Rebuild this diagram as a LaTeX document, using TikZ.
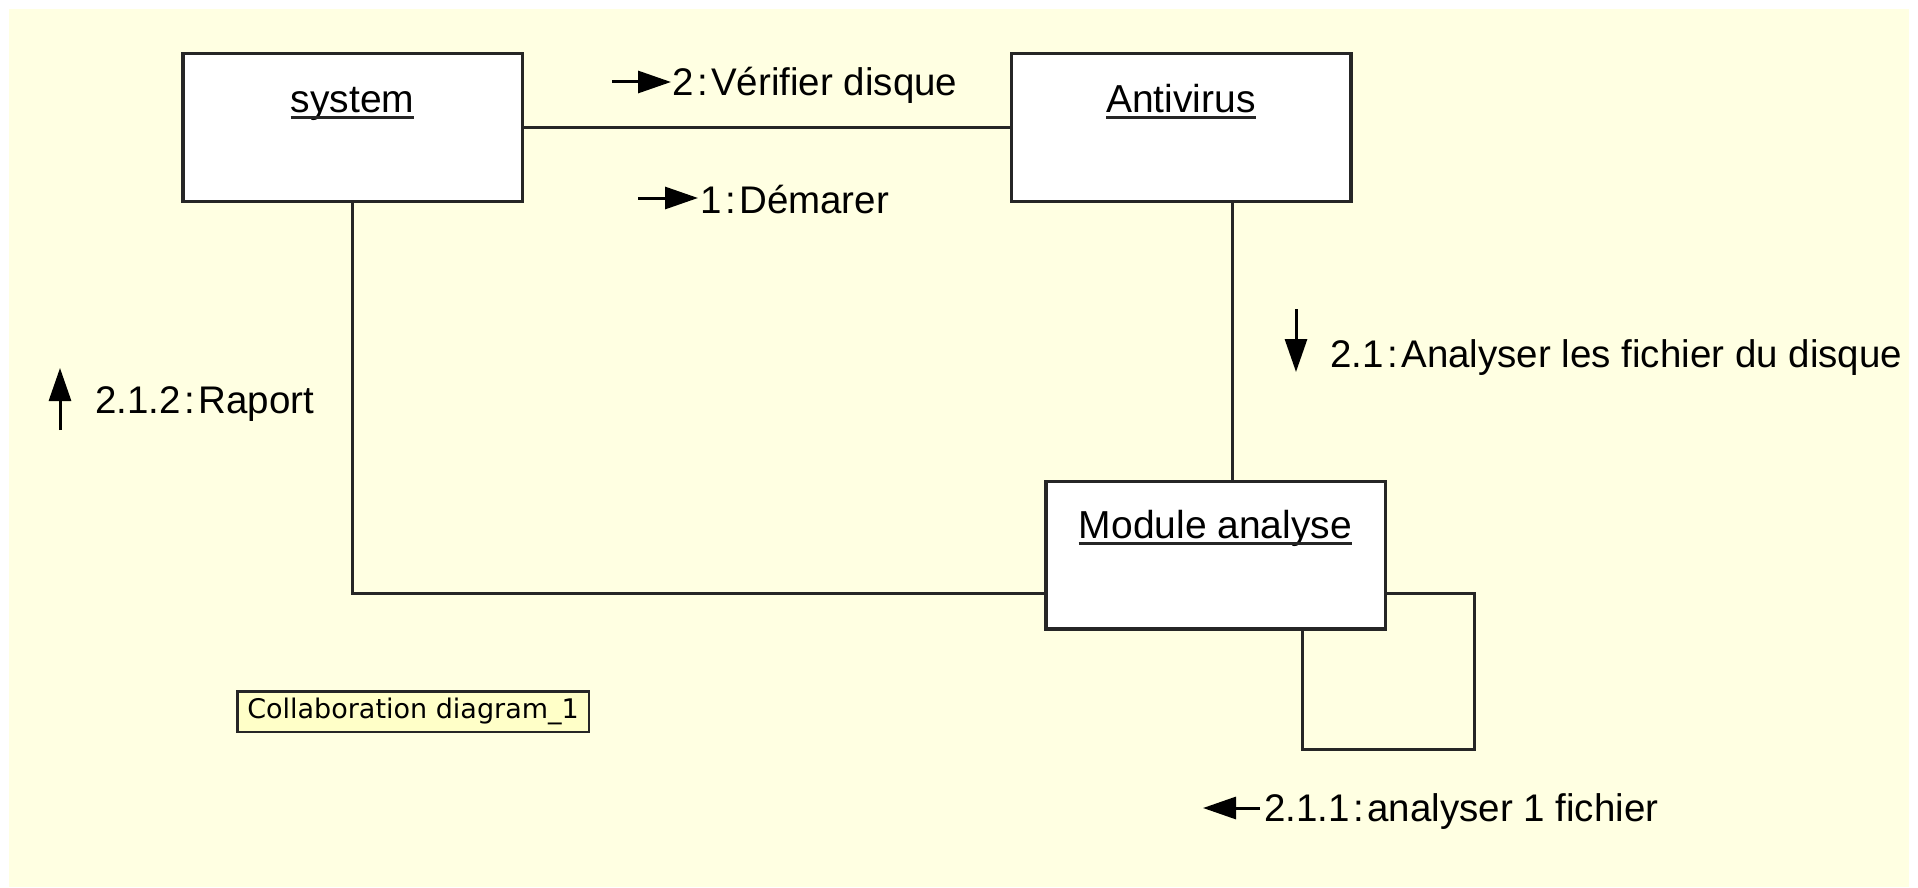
\documentclass[tikz,border=0pt]{standalone}
\usepackage{fontspec}
\setmainfont{Liberation Sans}
\newfontfamily\notefont{DejaVu Sans}
\usetikzlibrary{arrows.meta}

\definecolor{paper}{HTML}{FFFFE2}
\definecolor{notefill}{HTML}{FFFFC8}
\newcommand{\msg}[2]{#1\kern.09em:\kern.09em#2}

\tikzset{
  objbox/.style={draw=black!85, line width=3.5pt, fill=white, minimum width=339.5pt, minimum height=147.5pt},
  objname/.style={anchor=base, inner sep=0pt, font=\fontsize{39}{47}\selectfont},
  nameline/.style={line width=3pt, black!85},
  msgtext/.style={anchor=base west, inner sep=0pt, font=\fontsize{38.5}{46}\selectfont},
  msgarrow/.style={line width=3pt, -{Triangle[length=33pt,width=22pt]}},
  link/.style={draw=black!85, line width=3pt},
  notebox/.style={draw=black!85, line width=2.5pt, fill=notefill, minimum width=351.5pt, minimum height=40.5pt, inner sep=0pt, font=\notefont\fontsize{27}{32}\selectfont}
}

\begin{document}
\begin{tikzpicture}[x=1pt,y=-1pt]
    \useasboundingbox (0,0) rectangle (1918,888);
    \fill[paper] (9,9) rectangle (1909,887);

    % objects
    \node[objbox] (sys) at (352.5,127.5) {};
    \node[objbox] (anti) at (1181,127.5) {};
    \node[objbox] (mod) at (1215.5,555) {};
    \node[objname] (sysname) at (352.5,113) {system};
    \node[objname] (antiname) at (1181,113) {Antivirus};
    \node[objname] (modname) at (1215.5,538) {Module analyse};
    \foreach \n in {sysname,antiname,modname}
        \draw[nameline] ([yshift=-5pt]\n.base west) -- ([yshift=-5pt]\n.base east);

    % links
    \draw[link] (sys) -- (anti);
    \draw[link] ([xshift=51pt]anti.south) -- ([xshift=51pt]anti.south |- mod.north);
    \draw[link] (sys.south) |- ([yshift=-38pt]mod.west);
    \coordinate (loop) at (1474,749);
    \draw[link] ([yshift=-38pt]mod.east) -| (loop) -| ([xshift=86.5pt]mod.south);

    % messages
    \node[msgtext] (m1) at (700,213) {\msg{1}{Démarer}};
    \draw[msgarrow] ([shift={(-62pt,15pt)}]m1.base west) -- ([shift={(-2pt,15pt)}]m1.base west);
    \node[msgtext] (m2) at (672,96) {\msg{2}{Vérifier disque}};
    \draw[msgarrow] ([shift={(-60pt,14pt)}]m2.base west) -- ([shift={(-1pt,14pt)}]m2.base west);
    \node[msgtext] (m21) at (1330,367) {\msg{2.1}{Analyser les fichier du disque}};
    \draw[msgarrow] ([shift={(-34pt,58pt)}]m21.base west) -- ([shift={(-34pt,-5pt)}]m21.base west);
    \node[msgtext] (m211) at (1264,821) {\msg{2.1.1}{analyser 1 fichier}};
    \draw[msgarrow] ([shift={(-4pt,13pt)}]m211.base west) -- ([shift={(-61pt,13pt)}]m211.base west);
    \node[msgtext] (m212) at (95,413) {\msg{2.1.2}{Raport}};
    \draw[msgarrow] ([shift={(-35pt,-17pt)}]m212.base west) -- ([shift={(-35pt,45pt)}]m212.base west);

    % note
    \node[notebox] (title) at (413,711.5) {Collaboration diagram\_1};
\end{tikzpicture}
\end{document}
